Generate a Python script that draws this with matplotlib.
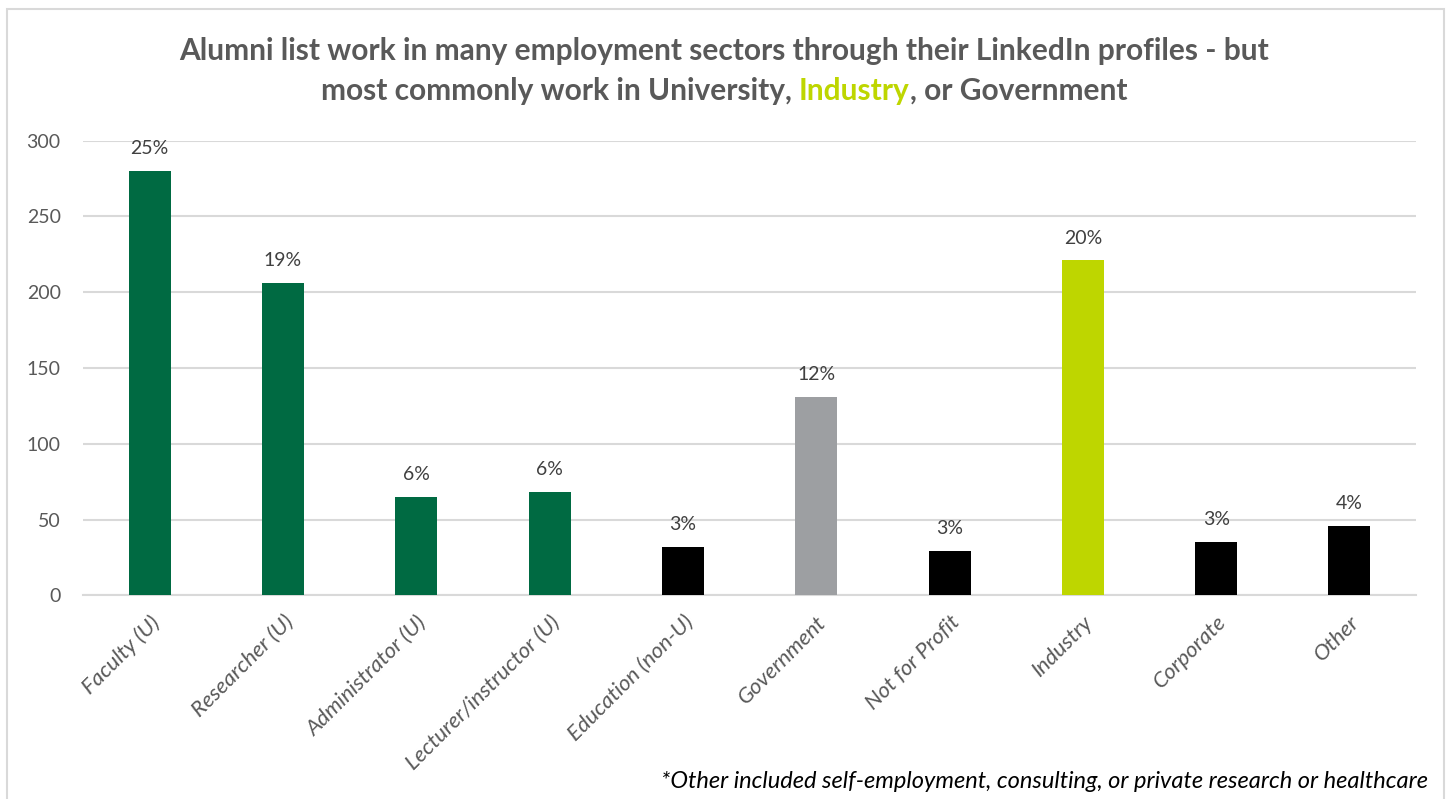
import numpy as np
import matplotlib.pyplot as plt
from matplotlib.patches import Rectangle

plt.rcParams['font.family'] = ['Lato', 'DejaVu Sans']

# Sectors and number of alumni listing each one
sectors = ['Faculty (U)', 'Researcher (U)', 'Administrator (U)', 'Lecturer/instructor (U)',
           'Education (non-U)', 'Government', 'Not for Profit', 'Industry', 'Corporate', 'Other']
counts = [280, 206, 65, 68, 32, 131, 29, 221, 35, 46]
colors = ['#006A42', '#006A42', '#006A42', '#006A42', '#000000',
          '#9D9FA2', '#000000', '#BED600', '#000000', '#000000']
yticks = [0, 50, 100, 150, 200, 250, 300]

grey_txt = '#595959'
total = sum(counts)
shares = [c / total * 100 for c in counts]

fig = plt.figure(figsize=(14.48, 7.99), dpi=100)
ax = fig.add_axes([0.0573, 0.2549, 0.9207, 0.569])

x = np.arange(len(sectors))
ax.bar(x, counts, width=0.315, color=colors, zorder=3)
for xi, c, s in zip(x, counts, shares):
    ax.annotate('%d%%' % round(s), (xi, c), xytext=(0, 10), textcoords='offset points',
                ha='center', va='bottom', fontsize=14, color='#404040')

ax.set_xlim(-0.5, len(sectors) - 0.5)
ax.set_ylim(0, 300)
ax.set_yticks(yticks)
ax.set_yticklabels([str(t) for t in yticks], fontsize=14, color=grey_txt)
ax.set_xticks(x)
ax.set_xticklabels(sectors, rotation=45, ha='right', rotation_mode='anchor',
                   fontsize=16, color=grey_txt, style='italic')
ax.tick_params(axis='both', length=0)
ax.tick_params(axis='y', pad=16)
ax.tick_params(axis='x', pad=12)
ax.grid(axis='y', color='#D9D9D9', lw=1.5, zorder=0)
for sp in ['left', 'right', 'top']:
    ax.spines[sp].set_visible(False)
ax.spines['bottom'].set_color('#D9D9D9')
ax.spines['bottom'].set_linewidth(1.5)

# title, second line has "Industry" in the bar colour
fig.text(0.5, 0.925, 'Alumni list work in many employment sectors through their LinkedIn profiles - but',
         ha='center', va='baseline', fontsize=21.5, fontweight='bold', color=grey_txt)
parts = [('most commonly work in University, ', grey_txt), ('Industry', '#BED600'),
         (', or Government', grey_txt)]
fig.canvas.draw()
r = fig.canvas.get_renderer()
pieces = []
for txt, col in parts:
    t = fig.text(0, 0.875, txt, ha='left', va='baseline', fontsize=21.5,
                 fontweight='bold', color=col)
    pieces.append(t)
widths = [t.get_window_extent(r).width for t in pieces]
W = fig.bbox.width
xpos = (W - sum(widths)) / 2
for t, w in zip(pieces, widths):
    t.set_x(xpos / W)
    xpos += w

fig.text(0.986, 0.022, '*Other included self-employment, consulting, or private research or healthcare',
         ha='right', va='center', fontsize=17, style='italic', color='#000000')

fig.patches.append(Rectangle((7 / 1448, -0.01), 1437 / 1448, 1 - 9 / 799 + 0.01,
                             transform=fig.transFigure, fill=False, ec='#D9D9D9', lw=1.5))

fig.savefig('out.png', dpi=100)
